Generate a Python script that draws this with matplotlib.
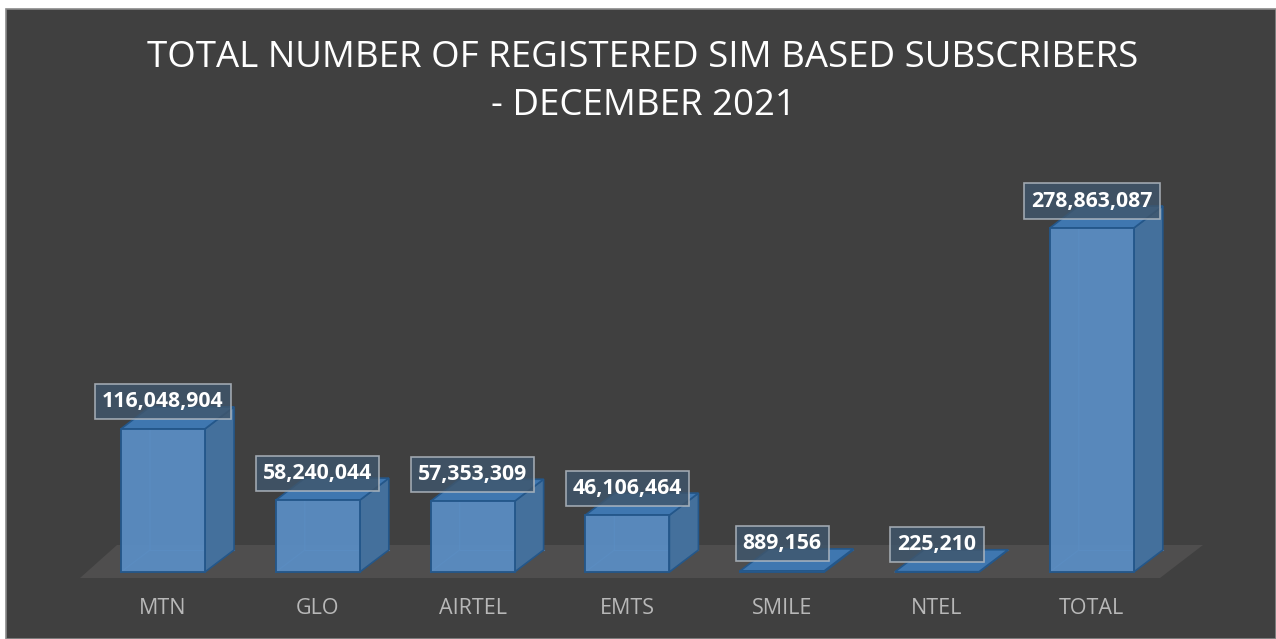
"""Registered SIM based subscribers per operator, December 2021 (3D-style column chart)."""
import matplotlib
matplotlib.use("Agg")
import matplotlib.pyplot as plt
from matplotlib.patches import Polygon, Rectangle

operators = ["MTN", "GLO", "AIRTEL", "EMTS", "SMILE", "NTEL", "TOTAL"]
subscribers = [116048904, 58240044, 57353309, 46106464, 889156, 225210, 278863087]
title_lines = ["TOTAL NUMBER OF REGISTERED SIM BASED SUBSCRIBERS", "- DECEMBER 2021"]

W, H = 1276, 639
BG = "#404040"
FRONT = "#5a8dc3"
SIDE = "#44709c"
TOP = "#3f77b0"
EDGE = "#24578a"

plt.rcParams["font.family"] = ["Open Sans", "DejaVu Sans"]
fig = plt.figure(figsize=(W / 100, H / 100), dpi=100)
fig.patch.set_facecolor("white")


def fx(px):
    return px / W


def fy(py):
    return 1 - py / H


# chart area with thin frame
fig.patches.append(Rectangle((fx(6), 0), 1 - fx(6), fy(9), transform=fig.transFigure,
                             facecolor=BG, edgecolor="#8a8a8a", lw=1.2, zorder=0))
# floor
floor = [(80, 578), (1160, 578), (1203, 545), (117, 545)]
fig.patches.append(Polygon([(fx(a), fy(b)) for a, b in floor], closed=True,
                           transform=fig.transFigure, facecolor="#4f4e4e",
                           edgecolor="none", zorder=0.5))

fig.text(fx(643), fy(58), title_lines[0], ha="center", va="center", fontsize=26.4, color="white")
fig.text(fx(643), fy(106), title_lines[1], ha="center", va="center", fontsize=26.4, color="white")

# axes: x in category units (step 154.8 px), y in subscribers
step_px = 154.8
x0_px = 163
base_px = 572
top_px_total = 228
px_per_unit = (base_px - top_px_total) / max(subscribers)
ax_l, ax_r, ax_b, ax_t = 78, 1200, 578, 160
ax = fig.add_axes([fx(ax_l), fy(ax_b), fx(ax_r - ax_l), fy(ax_t) - fy(ax_b)])
ax.set_zorder(2)
ax.set_xlim((ax_l - x0_px) / step_px, (ax_r - x0_px) / step_px)
ax.set_ylim(-(ax_b - base_px) / px_per_unit, (base_px - ax_t) / px_per_unit)
ax.axis("off")
ax.patch.set_alpha(0)

w = 84 / step_px
dx = 29 / step_px
dy = 22 / px_per_unit
lab_off = 27 / px_per_unit

for i, (name, v) in enumerate(zip(operators, subscribers)):
    l, r = i - w / 2, i + w / 2
    z = 3
    # hidden back edges visible through the translucent column
    ax.plot([l, l + dx, l + dx], [0, dy, v + dy], color="#6a9fd6", lw=0.8, alpha=0.6, zorder=z)
    ax.plot([l + dx, r + dx], [dy, dy], color="#6a9fd6", lw=0.8, alpha=0.6, zorder=z)
    ax.add_patch(Polygon([(r, 0), (r + dx, dy), (r + dx, v + dy), (r, v)], closed=True,
                         facecolor=SIDE, edgecolor=EDGE, lw=1.2, zorder=z))
    ax.add_patch(Polygon([(l, v), (r, v), (r + dx, v + dy), (l + dx, v + dy)], closed=True,
                         facecolor=TOP, edgecolor=EDGE, lw=1.2, zorder=z))
    ax.bar(i, v, width=w, color=FRONT, edgecolor=EDGE, lw=1.4, alpha=0.95, zorder=z + 0.5)
    ax.text(i, v + lab_off, f"{v:,}", ha="center", va="center", fontsize=15.3,
            fontweight="bold", color="white", zorder=6,
            bbox=dict(boxstyle="square,pad=0.33", facecolor="#3f566c",
                      alpha=0.82, edgecolor="#b4bcc4", lw=1.2))
    fig.text(fx(x0_px + step_px * i), fy(608), name, ha="center", va="center",
             fontsize=15.5, color="#b8b8b8")

fig.savefig("out.png", dpi=100, facecolor=fig.get_facecolor())
